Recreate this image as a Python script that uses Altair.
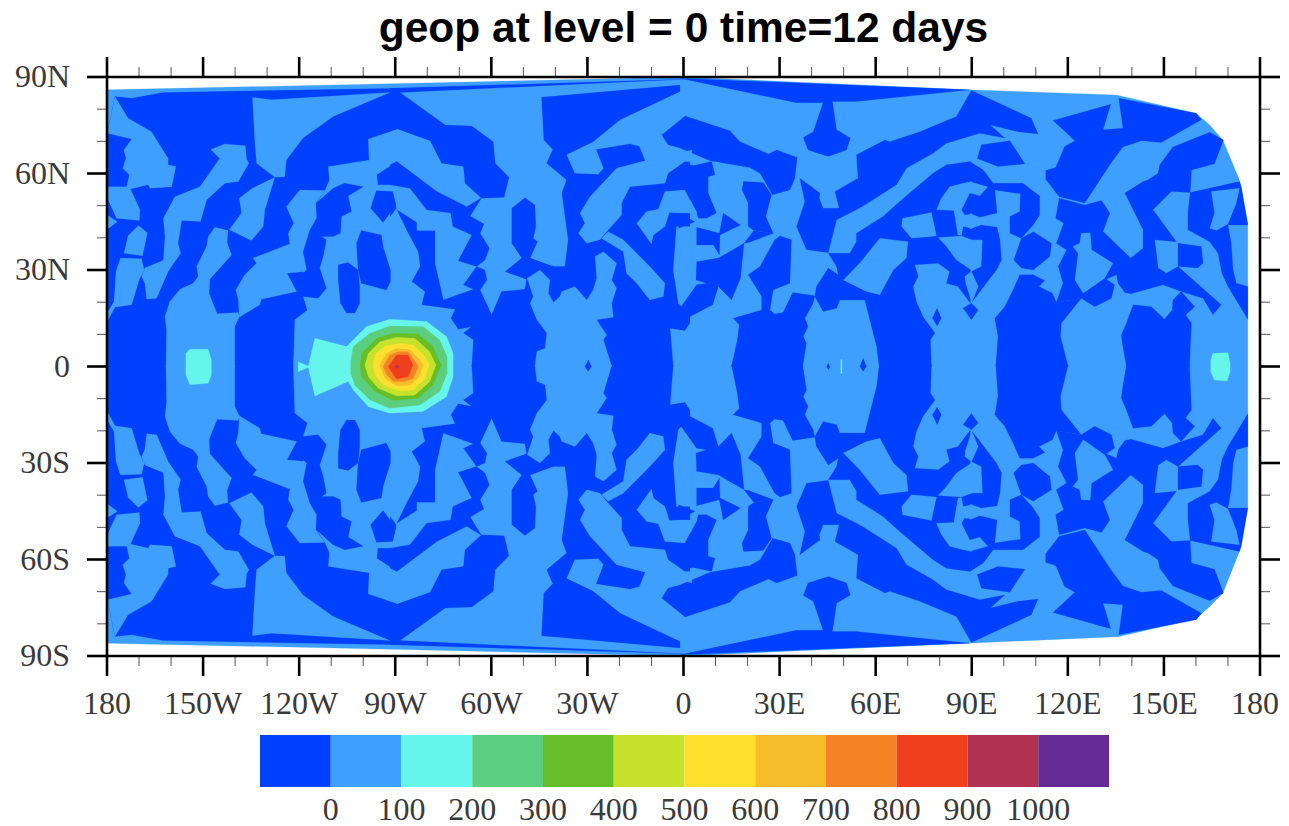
import altair as alt
import pandas as pd

FONT_AXIS = "Liberation Serif"
AXIS_SIZE = 32
AXIS_COLOR = "#3a3a3a"
DARK_C, LIGHT_C = "#0040ff", "#3f9fff"
bar_colors = ["#0040ff", "#3f9fff", "#66f5eb", "#5bcf7f", "#66bf2a", "#c6e22c",
              "#fde02e", "#f7bc2a", "#f38324", "#ee401c", "#b03150", "#652a94"]
bar_edges = [-100, 0, 100, 200, 300, 400, 500, 600, 700, 800, 900, 1000, 1100]
bar_labels = [0, 100, 200, 300, 400, 500, 600, 700, 800, 900, 1000]

x_ticks = [-180, -150, -120, -90, -60, -30, 0, 30, 60, 90, 120, 150, 180]
x_labels = ["180", "150W", "120W", "90W", "60W", "30W", "0", "30E", "60E", "90E", "120E", "150E", "180"]
y_ticks = [-90, -60, -30, 0, 30, 60, 90]
y_labels = ["90S", "60S", "30S", "0", "30N", "60N", "90N"]
x_minor = [-170, -160, -140, -130, -110, -100, -80, -70, -50, -40, -20, -10, 10, 20, 40, 50, 70, 80, 100, 110, 130, 140, 160, 170]
y_minor = [-80, -70, -50, -40, -20, -10, 10, 20, 40, 50, 70, 80]

HULL = [[(-180,86),(-88,88),(0,90),(89.4,86),(135.2,84.4),(160,78.7),(164.3,75.1),(168.4,70.4),(173.6,58),(176.2,44.5),
         (176.2,-44),(173.6,-57.5),(168.4,-70.5),(164.3,-74.6),(160,-78.5),(135.7,-84),(89.4,-86),(0,-90),(-88,-88),(-180,-86)]]

DARK_N = [
 [(-179.9,72.5),(-177.5,83.9),(-172.3,83.4),(-162.4,85.2),(-88.6,86.5),(-88.6,74.1),(-98.5,70.7),(-98.2,64.2),(-111,62.2),(-110.6,58),(-112,54.7),(-114.6,50.8),(-109.4,55.4),(-105.8,57),(-100,55.9),(-104.7,53),(-103.7,48.2),(-106.8,46.6),(-107.1,41.4),(-109.4,40.4),(-113,40.4),(-111.5,39.4),(-112.5,34.2),(-113.6,30.6),(-111.5,24.3),(-114.1,21.2),(-118.8,21.8),(-117.5,17.6),(-121.4,14.5),(-121.9,0),(-179.9,0)],
 [(-95.9,54.6),(-90.9,54.4),(-89.8,50.2),(-93.8,44.8),(-97.7,49.2)],
 [(-100.6,42.3),(-94.3,40.9),(-93.8,37.3),(-91.5,30),(-91.5,26.4),(-92.8,23.8),(-100.6,25.9),(-101.6,30),(-102.1,38.3)],
 [(-107.8,31.6),(-104.7,32.3),(-101.6,30),(-101.1,24.9),(-101.1,19.7),(-102.6,16.6),(-105.2,16.6),(-107.1,19.7),(-107.8,26.9)],
 [(-95.7,59.6),(-89.8,63.4),(-89.5,63.7),(-85,58),(-91.6,56.5),(-95.4,56.5)],
 [(-90.8,54.4),(-89.7,49.2),(-91.6,46.6)],
 [(-91.6,86.5),(-0.1,89.3),(-88.5,85.2),(-91.6,85.5)],
 [(-91.6,85.5),(-88.5,85.2),(-74.4,75.1),(-66.1,74.8),(-59.4,69.9),(-58.8,63.2),(-54.5,58.8),(-56,52.6),(-63,52.3),(-68.2,57),(-68.7,62.2),(-75.5,63.2),(-79.1,70.2),(-90,74.1),(-91.6,73.6)],
 [(-91.6,62.7),(-89.5,63.7),(-77,54.4),(-67.7,49.7),(-63,52.5),(-66.6,46.8),(-62.3,44.3),(-63.5,41.4),(-60.6,36.8),(-62,33.1),(-64.6,31.1),(-70.3,32.9),(-66.1,40.9),(-72,43.5),(-72.7,47.7),(-80.2,48.7),(-85.4,55.4),(-91.6,56.5)],
 [(-44.3,83.7),(-1.1,87.5),(-1.1,85.5),(-19.8,76.7),(-28.2,69.9),(-36.5,65.8),(-27.3,67.5),(-16.7,69.2),(-13.8,68.4),(-12,64),(-12,63),(0.4,63.8),(2,63.8),(2,13.5),(0.4,11.2),(-4.2,11.9),(-3.2,0),(-66.1,0),(-65.6,8.3),(-68.7,10.4),(-66.1,12.4),(-70.3,11.6),(-72.6,15),(-71.3,17.8),(-81.7,19.2),(-80.7,23.3),(-84.8,26.4),(-82.2,31.1),(-82.8,35.7),(-85.9,41.4),(-89.5,48.7),(-83.3,44.8),(-83.3,42.2),(-77.6,42.2),(-77.6,32.1),(-75,20.7),(-65.6,24),(-68.7,25.4),(-64.6,31.1),(-62,30),(-61.4,26.9),(-63.5,23.8),(-59.9,16.1),(-56.8,23.3),(-49.5,24),(-49,27.1),(-55.7,29.5),(-50.5,33.7),(-47.9,33.7),(-40.6,31.1),(-37,31.1),(-36,39.4),(-38,53.9),(-36.5,58),(-42.7,63.2),(-40.8,67.5),(-43.6,70.4)],
 [(-53.6,49.2),(-49.5,52.5),(-46.4,50.2),(-46.1,43.5),(-46.9,39.9),(-45.6,38.8),(-47.9,33.7),(-50.5,33.7),(-53.6,38.3)],
 [(-6.8,72),(0.5,77.9),(14.5,73.3),(17.6,69.9),(26.5,66.1),(29.1,67.3),(35.5,65),(34.8,58.5),(33.2,54.9),(27.8,53.4),(23.9,60.1),(20.7,61.9),(8.3,64),(-1.1,67.9),(-4.8,68.9)],
 [(-1.1,89.6),(89.4,86),(54,82.4),(46.5,82.4),(47.8,73.6),(52.1,71),(50.9,67.3),(45.2,65.3),(38.9,67.3),(37.4,71.2),(40.5,73),(43.6,82),(35.3,82)],
 [(54,65.8),(62.9,70.4),(64.4,69.9),(73.8,73),(85.2,77.7),(89.9,85.8),(108.6,77.2),(110.7,72.3),(104.5,73),(95.8,75.1),(100.3,71),(92.5,72.5),(82.1,69.4),(77.9,66.3),(69.6,61.6),(66.5,56.5),(56.6,50.2),(54,48.7),(47.8,45.6),(45.2,35.4),(38.4,36.3),(35.3,43.5),(37.9,51.3),(36.3,58.5),(42.6,53.9),(42.4,52.3),(43.6,49.2),(48.6,49.2),(47.3,54.4),(54.5,58.5)],
 [(54,41.4),(62.3,46.6),(67.5,51.3),(77.9,60.1),(82.1,62.7),(89.4,63.7),(89.6,19.7),(85.7,24.9),(82.1,25.9),(83.1,29.5),(79.5,32.1),(72.2,31.6),(73.3,28),(71.7,24.9),(72.7,20.2),(74.8,15.5),(78.5,10.4),(77.1,8.3),(77.4,0),(61.1,0),(60.3,6.2),(56.6,20.7),(48.8,20.7),(47.8,18.1),(43.6,17.1),(41,21.8),(41.5,24.9),(45.2,30.6),(48.3,28.5),(47.8,31.1),(45.2,35.2),(51.9,35.2),(54,38.8)],
 [(93,68.9),(101.9,70.2),(106.6,63),(98.2,62.2),(91.7,64.7)],
 [(89.4,63.7),(93.6,61.1),(96.7,57),(106,57),(111.2,53),(111.2,47.1),(109.2,44),(105.5,39.9),(101.9,41.4),(101.9,46.6),(105,48.2),(105.2,53.7),(97.2,54.9),(97.9,47.7),(92.5,46.4),(89.4,47.7),(89.4,53.9),(92.5,53),(95.1,55.9),(89.4,57.5)],
 [(89.4,42.7),(93,44),(97.9,43.3),(98.8,39.4),(99.3,33.1),(97.7,30),(90.2,20.2),(92,24.9),(89.9,29.5),(93,31.1),(93.4,39.4),(89.4,39.4)],
 [(-1.1,63.2),(3.1,62.5),(8.8,63.7),(9.8,59.6),(7.7,59),(7.7,53.9),(10.3,47.7),(7.2,46.1),(4.6,46.1),(4.1,48.2),(0.5,54.9),(-1.1,54.4)],
 [(18.7,57.5),(24.9,57.2),(27.5,53.4),(25.7,46.6),(28,41.4),(22,42.3),(20.2,43.5),(20.2,50.8),(18.3,54.9)],
 [(28,41.4),(20.2,38.5),(18.9,38.3),(22,42.3)],
 [(30.1,40.6),(33.7,39.4),(33.2,25.9),(28,23.8),(27,17.6),(24.4,21.8),(20.2,28.5),(23.9,31.1),(28.5,39.4)],
 [(15.5,15),(24.4,17.6),(24.4,21.8),(27,17.6),(28.5,16.3),(31.1,16.8),(34.1,23),(41,22),(40.5,19.7),(37.9,15),(38.9,12.4),(37.4,9.3),(38.4,7.2),(37.2,0),(15,0),(16.8,8.3),(17.4,13)],
 [(4.1,43.3),(11.2,41.4),(12.4,47.7),(17.8,44),(11.4,40.9),(11.2,34.7),(9.3,37.8),(4.1,37.8)],
 [(115.4,76.5),(133.4,81.5),(131,73.6),(137.2,74.1),(135.9,83.4),(160.1,78.7),(161.7,76.7),(149.2,69.6),(143,70.2),(137.2,68.2),(133.1,62.7),(125.3,50.8),(117.3,52.8),(113.1,58.2),(113.1,60.9),(116.2,61.9),(119,68.4),(122.2,70.2)],
 [(158.2,54.1),(173.6,57.5),(174.2,55.7),(176.2,44),(170,44),(171,38.3),(171.6,30),(172.6,25.9),(176.2,24.9),(176.2,14.7),(170,24.9),(168.1,29),(166.9,35.2),(164.3,38.8),(157.5,42.5),(157.5,47.7)],
 [(140.4,19.2),(146.1,18.6),(150.2,14.7),(152.6,17.6),(152.8,20.7),(155.4,23.3),(159.6,18.6),(156.8,16),(158.6,13.5),(158,0),(138.3,0),(137,7.2),(136.7,9.8),(138.3,13.5)],
 [(117.3,52.3),(125.3,50.2),(130.5,51.6),(133.1,47.7),(131,42),(139.6,33.7),(143.5,36.8),(143.5,42.5),(140.4,48.7),(137.8,53.9),(143.5,57.5),(145,58),(148.2,60.1),(148.7,62.7),(152.8,68.2),(164.3,72.8),(168.6,70.4),(165.8,63),(158.6,61.1),(158.2,54.1),(152.3,54.4),(146.6,48.7),(153.9,38.8),(147.1,39.4),(148.2,30.6),(150.8,29),(154.4,31.1),(167.9,19.2),(165.3,16.1),(162.2,21.2),(155.4,23.3),(149.7,25.4),(139.8,22.6),(137.8,23),(135.7,25.9),(135.2,28.5),(132,27.1),(134.6,25.4),(133.6,21.2),(128.4,18.6),(124.2,21.2),(116.4,20),(118.5,25.9),(117,31.1),(119.6,36.2),(116.4,38.3),(118.7,44.5),(116.2,46.1)],
 [(154.4,38.3),(161.7,37.3),(162.2,32.1),(160.6,30.6),(154.4,31.1)],
 [(105.5,39.9),(109.2,41.9),(114.9,38.3),(114.4,34.2),(109.2,30),(105.5,30.6),(103.1,33.1)],
 [(105,28.5),(109.2,28.5),(112.8,26.7),(111,24.9),(115.2,22.8),(116.4,20),(124.2,21.2),(118,13.5),(117.7,9.3),(120.1,0),(97.5,0),(98.2,9.3),(97.2,15),(100.3,18.6),(102.9,23.8)],
]

DARK_S = [
 [(-179.9,-72.5),(-177.5,-83.9),(-172.3,-83.4),(-162.4,-85.2),(-88.6,-86.5),(-88.6,-74.1),(-98.5,-70.7),(-98.2,-64.2),(-111,-62.2),(-110.6,-58),(-112,-54.7),(-114.6,-50.8),(-109.4,-55.4),(-105.8,-57),(-100,-55.9),(-104.7,-53),(-103.7,-48.2),(-106.8,-46.6),(-107.1,-41.4),(-109.4,-40.4),(-113,-40.4),(-111.5,-39.4),(-112.5,-34.2),(-113.6,-30.6),(-111.5,-24.3),(-114.1,-21.2),(-118.8,-21.8),(-117.5,-17.6),(-121.4,-14.5),(-121.9,0.5),(-179.9,0.5)],
 [(-95.9,-54.6),(-90.9,-54.4),(-89.8,-50.2),(-93.8,-44.8),(-97.7,-49.2)],
 [(-100.6,-42.3),(-94.3,-40.9),(-93.8,-37.3),(-91.5,-30),(-91.5,-26.4),(-92.8,-23.8),(-100.6,-25.9),(-101.6,-30),(-102.1,-38.3)],
 [(-107.8,-31.6),(-104.7,-32.3),(-101.6,-30),(-101.1,-24.9),(-101.1,-19.7),(-102.6,-16.6),(-105.2,-16.6),(-107.1,-19.7),(-107.8,-26.9)],
 [(-95.7,-59.6),(-89.8,-63.4),(-89.5,-63.7),(-85,-58),(-91.6,-56.5),(-95.4,-56.5)],
 [(-90.8,-54.4),(-89.7,-49.2),(-91.6,-46.6)],
 [(-91.6,-86.5),(-0.1,-89.3),(-88.5,-85.2),(-91.6,-85.5)],
 [(-91.6,-85.5),(-88.5,-85.2),(-74.4,-75.1),(-66.1,-74.8),(-59.4,-69.9),(-58.8,-63.2),(-54.5,-58.8),(-56,-52.6),(-63,-52.3),(-68.2,-57),(-68.7,-62.2),(-75.5,-63.2),(-79.1,-70.2),(-90,-74.1),(-91.6,-73.6)],
 [(-91.6,-62.7),(-89.5,-63.7),(-77,-54.4),(-67.7,-49.7),(-63,-52.5),(-66.6,-46.8),(-62.3,-44.3),(-63.5,-41.4),(-60.6,-36.8),(-62,-33.1),(-64.6,-31.1),(-70.3,-32.9),(-66.1,-40.9),(-72,-43.5),(-72.7,-47.7),(-80.2,-48.7),(-85.4,-55.4),(-91.6,-56.5)],
 [(-44.3,-83.7),(-1.1,-87.5),(-1.1,-85.5),(-19.8,-76.7),(-28.2,-69.9),(-36.5,-65.8),(-27.3,-67.5),(-16.7,-69.2),(-13.8,-68.4),(-12,-64),(-12,-63),(0.4,-63.8),(2,-63.8),(2,-13.5),(0.4,-11.2),(-4.2,-11.9),(-3.2,0.5),(-66.1,0.5),(-65.6,-8.3),(-68.7,-10.4),(-66.1,-12.4),(-70.3,-11.6),(-72.6,-15),(-71.3,-17.8),(-81.7,-19.2),(-80.7,-23.3),(-84.8,-26.4),(-82.2,-31.1),(-82.8,-35.7),(-85.9,-41.4),(-89.5,-48.7),(-83.3,-44.8),(-83.3,-42.2),(-77.6,-42.2),(-77.6,-32.1),(-75,-20.7),(-65.6,-24),(-68.7,-25.4),(-64.6,-31.1),(-62,-30),(-61.4,-26.9),(-63.5,-23.8),(-59.9,-16.1),(-56.8,-23.3),(-49.5,-24),(-49,-27.1),(-55.7,-29.5),(-50.5,-33.7),(-47.9,-33.7),(-40.6,-31.1),(-37,-31.1),(-36,-39.4),(-38,-53.9),(-36.5,-58),(-42.7,-63.2),(-40.8,-67.5),(-43.6,-70.4)],
 [(-53.6,-49.2),(-49.5,-52.5),(-46.4,-50.2),(-46.1,-43.5),(-46.9,-39.9),(-45.6,-38.8),(-47.9,-33.7),(-50.5,-33.7),(-53.6,-38.3)],
 [(-6.8,-72),(0.5,-77.9),(14.5,-73.3),(17.6,-69.9),(26.5,-66.1),(29.1,-67.3),(35.5,-65),(34.8,-58.5),(33.2,-54.9),(27.8,-53.4),(23.9,-60.1),(20.7,-61.9),(8.3,-64),(-1.1,-67.9),(-4.8,-68.9)],
 [(-1.1,-89.6),(89.4,-86),(54,-82.4),(46.5,-82.4),(47.8,-73.6),(52.1,-71),(50.9,-67.3),(45.2,-65.3),(38.9,-67.3),(37.4,-71.2),(40.5,-73),(43.6,-82),(35.3,-82)],
 [(54,-65.8),(62.9,-70.4),(64.4,-69.9),(73.8,-73),(85.2,-77.7),(89.9,-85.8),(108.6,-77.2),(110.7,-72.3),(104.5,-73),(95.8,-75.1),(100.3,-71),(92.5,-72.5),(82.1,-69.4),(77.9,-66.3),(69.6,-61.6),(66.5,-56.5),(56.6,-50.2),(54,-48.7),(47.8,-45.6),(45.2,-35.4),(38.4,-36.3),(35.3,-43.5),(37.9,-51.3),(36.3,-58.5),(42.6,-53.9),(42.4,-52.3),(43.6,-49.2),(48.6,-49.2),(47.3,-54.4),(54.5,-58.5)],
 [(54,-41.4),(62.3,-46.6),(67.5,-51.3),(77.9,-60.1),(82.1,-62.7),(89.4,-63.7),(89.6,-19.7),(85.7,-24.9),(82.1,-25.9),(83.1,-29.5),(79.5,-32.1),(72.2,-31.6),(73.3,-28),(71.7,-24.9),(72.7,-20.2),(74.8,-15.5),(78.5,-10.4),(77.1,-8.3),(77.4,0.5),(61.1,0.5),(60.3,-6.2),(56.6,-20.7),(48.8,-20.7),(47.8,-18.1),(43.6,-17.1),(41,-21.8),(41.5,-24.9),(45.2,-30.6),(48.3,-28.5),(47.8,-31.1),(45.2,-35.2),(51.9,-35.2),(54,-38.8)],
 [(93,-68.9),(101.9,-70.2),(106.6,-63),(98.2,-62.2),(91.7,-64.7)],
 [(89.4,-63.7),(93.6,-61.1),(96.7,-57),(106,-57),(111.2,-53),(111.2,-47.1),(109.2,-44),(105.5,-39.9),(101.9,-41.4),(101.9,-46.6),(105,-48.2),(105.2,-53.7),(97.2,-54.9),(97.9,-47.7),(92.5,-46.4),(89.4,-47.7),(89.4,-53.9),(92.5,-53),(95.1,-55.9),(89.4,-57.5)],
 [(89.4,-42.7),(93,-44),(97.9,-43.3),(98.8,-39.4),(99.3,-33.1),(97.7,-30),(90.2,-20.2),(92,-24.9),(89.9,-29.5),(93,-31.1),(93.4,-39.4),(89.4,-39.4)],
 [(-1.1,-63.2),(3.1,-62.5),(8.8,-63.7),(9.8,-59.6),(7.7,-59),(7.7,-53.9),(10.3,-47.7),(7.2,-46.1),(4.6,-46.1),(4.1,-48.2),(0.5,-54.9),(-1.1,-54.4)],
 [(18.7,-57.5),(24.9,-57.2),(27.5,-53.4),(25.7,-46.6),(28,-41.4),(22,-42.3),(20.2,-43.5),(20.2,-50.8),(18.3,-54.9)],
 [(28,-41.4),(20.2,-38.5),(18.9,-38.3),(22,-42.3)],
 [(30.1,-40.6),(33.7,-39.4),(33.2,-25.9),(28,-23.8),(27,-17.6),(24.4,-21.8),(20.2,-28.5),(23.9,-31.1),(28.5,-39.4)],
 [(15.5,-15),(24.4,-17.6),(24.4,-21.8),(27,-17.6),(28.5,-16.3),(31.1,-16.8),(34.1,-23),(41,-22),(40.5,-19.7),(37.9,-15),(38.9,-12.4),(37.4,-9.3),(38.4,-7.2),(37.2,0.5),(15,0.5),(16.8,-8.3),(17.4,-13)],
 [(4.1,-43.3),(11.2,-41.4),(12.4,-47.7),(17.8,-44),(11.4,-40.9),(11.2,-34.7),(9.3,-37.8),(4.1,-37.8)],
 [(115.4,-76.5),(133.4,-81.5),(131,-73.6),(137.2,-74.1),(135.9,-83.4),(160.1,-78.7),(161.7,-76.7),(149.2,-69.6),(143,-70.2),(137.2,-68.2),(133.1,-62.7),(125.3,-50.8),(117.3,-52.8),(113.1,-58.2),(113.1,-60.9),(116.2,-61.9),(119,-68.4),(122.2,-70.2)],
 [(158.2,-54.1),(173.6,-57.5),(174.2,-55.7),(176.2,-44),(170,-44),(171,-38.3),(171.6,-30),(172.6,-25.9),(176.2,-24.9),(176.2,-14.7),(170,-24.9),(168.1,-29),(166.9,-35.2),(164.3,-38.8),(157.5,-42.5),(157.5,-47.7)],
 [(140.4,-19.2),(146.1,-18.6),(150.2,-14.7),(152.6,-17.6),(152.8,-20.7),(155.4,-23.3),(159.6,-18.6),(156.8,-16),(158.6,-13.5),(158,0.5),(138.3,0.5),(137,-7.2),(136.7,-9.8),(138.3,-13.5)],
 [(117.3,-52.3),(125.3,-50.2),(130.5,-51.6),(133.1,-47.7),(131,-42),(139.6,-33.7),(143.5,-36.8),(143.5,-42.5),(140.4,-48.7),(137.8,-53.9),(143.5,-57.5),(145,-58),(148.2,-60.1),(148.7,-62.7),(152.8,-68.2),(164.3,-72.8),(168.6,-70.4),(165.8,-63),(158.6,-61.1),(158.2,-54.1),(152.3,-54.4),(146.6,-48.7),(153.9,-38.8),(147.1,-39.4),(148.2,-30.6),(150.8,-29),(154.4,-31.1),(167.9,-19.2),(165.3,-16.1),(162.2,-21.2),(155.4,-23.3),(149.7,-25.4),(139.8,-22.6),(137.8,-23),(135.7,-25.9),(135.2,-28.5),(132,-27.1),(134.6,-25.4),(133.6,-21.2),(128.4,-18.6),(124.2,-21.2),(116.4,-20),(118.5,-25.9),(117,-31.1),(119.6,-36.2),(116.4,-38.3),(118.7,-44.5),(116.2,-46.1)],
 [(154.4,-38.3),(161.7,-37.3),(162.2,-32.1),(160.6,-30.6),(154.4,-31.1)],
 [(105.5,-39.9),(109.2,-41.9),(114.9,-38.3),(114.4,-34.2),(109.2,-30),(105.5,-30.6),(103.1,-33.1)],
 [(105,-28.5),(109.2,-28.5),(112.8,-26.7),(111,-24.9),(115.2,-22.8),(116.4,-20),(124.2,-21.2),(118,-13.5),(117.7,-9.3),(120.1,0.5),(97.5,0.5),(98.2,-9.3),(97.2,-15),(100.3,-18.6),(102.9,-23.8)],
]

LIGHT_N = [
 [(-177.5,83.9),(-173.4,77.2),(-166.1,73),(-160.9,64.7),(-160.9,62.7),(-158.5,62.2),(-159.8,55.9),(-166.6,55.4),(-167.1,56.5),(-174.1,54.9),(-173,59.6),(-175.1,61.6),(-174.1,64.7),(-174.7,67.3),(-172.3,70.7),(-179.9,72.5)],
 [(-179.9,55.9),(-173,55.9),(-169.7,48.7),(-169.9,45.4),(-177,46.1),(-179.9,52.3)],
 [(-179.9,47.1),(-176.8,45),(-179.9,42.7)],
 [(-170.2,43.8),(-167.4,41.6),(-168.9,34.4),(-174.7,35.2),(-173.4,40.7)],
 [(-175.8,33.7),(-169.2,33.5),(-168.4,30),(-169.9,27.1),(-172.3,19.2),(-177.5,18.4),(-179.9,14),(-179.9,16.6),(-177.8,20.2),(-177.2,29.5)],
 [(-168.2,30.6),(-162.4,33),(-161.9,40.4),(-162.4,46.1),(-158.8,52.8),(-151,55.9),(-144.8,64.7),(-147.6,67.5),(-143.2,69.2),(-136.8,68.6),(-136.4,64.4),(-135.7,63.2),(-139,57.5),(-143.2,57),(-148.9,51.8),(-150.8,45.1),(-156.7,45.4),(-157.8,38.3),(-157,35.2),(-160.9,29.5),(-164.5,21.2),(-167.6,20.9),(-168.2,25.9),(-169.2,28)],
 [(-138.7,52.3),(-134.6,55.4),(-127.6,58.8),(-130.7,48.7),(-131.2,43.5),(-134.9,39.2),(-141.8,42.5),(-138,47.7)],
 [(-134.6,83.7),(-128.6,82.9),(-91.7,85.2),(-109.4,77.7),(-118.8,71),(-124,64.2),(-124.5,59),(-127.6,58.8),(-133.3,63.2),(-133.8,69.4)],
 [(-146.3,43.3),(-142.2,42.3),(-142.5,38.5),(-141.1,34.7),(-147.9,27.1),(-148.1,22.6),(-145.6,16.4),(-139,16.8),(-138.7,15.3),(-140.1,12.4),(-140.1,0),(-161.6,0),(-161.4,11.4),(-161.9,15.5),(-160.4,20.2),(-157.2,24),(-153.1,25.9),(-151.5,28),(-152,31.1),(-148.9,37.3),(-148.4,40.4)],
 [(-134.4,33.7),(-122.4,38.3),(-118.2,29.5),(-123.8,29),(-120.8,23.3),(-131.8,20.9),(-132.3,19.2),(-138.7,15.3),(-139,20.7),(-139.8,23.8),(-137,28.5),(-133.3,32.1)],
 [(-119.8,54.9),(-112,54.7),(-114.8,50.8),(-114.6,46.1),(-116.7,42.5),(-118.8,35.7),(-117.7,30),(-118.8,29.2),(-123,38.6),(-123.4,41.4),(-121.7,44.5),(-124,49.7)],
 [(-36.5,65.8),(-28.2,69.5),(-27.3,67.5),(-25,61.6),(-26.6,59.8),(-33.9,60.1)],
 [(-29.2,52.8),(-20.9,61.6),(-12,64),(2.6,67.3),(2.6,63.7),(0.4,63.7),(-4.8,60.1),(-5.8,57),(-16.7,55.9),(-19.3,50.8),(-19.3,47.1),(-23.5,42.5),(-26.1,39.4),(-30.2,38.3),(-32.8,41.4),(-30.8,44.5),(-32.3,47.7)],
 [(-5.8,54.4),(0.4,54.9),(4.1,47.7),(-1.1,47.7),(-4.4,47.9),(-5.8,43.5),(-9.4,40.9),(-10,38.1),(-14.6,44.5),(-11.5,48.2),(-7.9,48.9)],
 [(-23.5,41.9),(-18.8,39.4),(-10.5,31.1),(-5.8,25.9),(-6.3,21.8),(-10.5,20.7),(-14.6,25.9),(-17.8,29),(-18.8,35.7),(-25.6,39.9)],
 [(-2.2,43.5),(2.6,43.5),(2.6,18.1),(-0.1,18.1),(-1.6,19.7),(-3.2,30)],
 [(-48.8,27.4),(-44.8,30),(-41.7,26.9),(-42.2,22.8),(-40.6,19.9),(-38.6,21.8),(-38,23.3),(-33.9,24.9),(-30.2,20.7),(-28.2,23.8),(-27.1,27.4),(-27.6,34.2),(-25,35.7),(-20.9,32.1),(-22.4,26.9),(-20.9,24.3),(-22.4,19.7),(-21.9,15.3),(-27.1,14.5),(-24,9.8),(-25,8.3),(-22.4,0),(-46.4,0),(-45.8,4.7),(-43.2,5.7),(-42.7,10.4),(-45.8,14.5),(-47.9,19.7),(-46.9,21.8)],
 [(68.4,46.1),(77.4,47.9),(79,40.6),(71.2,39.9),(68.1,43.5)],
 [(80.5,52.3),(83.1,55.9),(87.3,57),(90,57.5),(90,53.9),(89.4,53.9),(86.8,48.7),(87.8,47.1),(90,47.4),(90,43),(87.3,43.5),(86.8,40.7),(85.7,40.9),(84.4,48.5),(79,48.7)],
 [(79.5,40.1),(86.8,40.6),(90,39.4),(90,31.1),(89.9,30),(85.2,33.1),(82.1,37.3)],
 [(49.9,26.9),(55,32.1),(61.3,39.9),(70.1,38.8),(69.6,33.7),(65.5,30),(61.3,22.3),(57.1,23.3)],
 [(89.9,29.5),(92,24.9),(89.9,20.2),(88.1,25.9),(87.8,28)],
 [(124.2,41.4),(127,41.6),(127.4,36.3),(134.1,32.1),(131.5,27.4),(124.8,22.8),(122.2,26.9),(123.2,35.2),(121.6,37.3),(123.7,38.3)],
 [(164.8,54.4),(173.6,55.4),(172.6,50.8),(170,44.3),(166.4,42.3),(164.3,43),(165.8,47.7)],
]

LIGHT_S = [
 [(-177.5,-83.9),(-173.4,-77.2),(-166.1,-73),(-160.9,-64.7),(-160.9,-62.7),(-158.5,-62.2),(-159.8,-55.9),(-166.6,-55.4),(-167.1,-56.5),(-174.1,-54.9),(-173,-59.6),(-175.1,-61.6),(-174.1,-64.7),(-174.7,-67.3),(-172.3,-70.7),(-179.9,-72.5)],
 [(-179.9,-55.9),(-173,-55.9),(-169.7,-48.7),(-169.9,-45.4),(-177,-46.1),(-179.9,-52.3)],
 [(-179.9,-47.1),(-176.8,-45),(-179.9,-42.7)],
 [(-170.2,-43.8),(-167.4,-41.6),(-168.9,-34.4),(-174.7,-35.2),(-173.4,-40.7)],
 [(-175.8,-33.7),(-169.2,-33.5),(-168.4,-30),(-169.9,-27.1),(-172.3,-19.2),(-177.5,-18.4),(-179.9,-14),(-179.9,-16.6),(-177.8,-20.2),(-177.2,-29.5)],
 [(-168.2,-30.6),(-162.4,-33),(-161.9,-40.4),(-162.4,-46.1),(-158.8,-52.8),(-151,-55.9),(-144.8,-64.7),(-147.6,-67.5),(-143.2,-69.2),(-136.8,-68.6),(-136.4,-64.4),(-135.7,-63.2),(-139,-57.5),(-143.2,-57),(-148.9,-51.8),(-150.8,-45.1),(-156.7,-45.4),(-157.8,-38.3),(-157,-35.2),(-160.9,-29.5),(-164.5,-21.2),(-167.6,-20.9),(-168.2,-25.9),(-169.2,-28)],
 [(-138.7,-52.3),(-134.6,-55.4),(-127.6,-58.8),(-130.7,-48.7),(-131.2,-43.5),(-134.9,-39.2),(-141.8,-42.5),(-138,-47.7)],
 [(-134.6,-83.7),(-128.6,-82.9),(-91.7,-85.2),(-109.4,-77.7),(-118.8,-71),(-124,-64.2),(-124.5,-59),(-127.6,-58.8),(-133.3,-63.2),(-133.8,-69.4)],
 [(-146.3,-43.3),(-142.2,-42.3),(-142.5,-38.5),(-141.1,-34.7),(-147.9,-27.1),(-148.1,-22.6),(-145.6,-16.4),(-139,-16.8),(-138.7,-15.3),(-140.1,-12.4),(-140.1,0.5),(-161.6,0.5),(-161.4,-11.4),(-161.9,-15.5),(-160.4,-20.2),(-157.2,-24),(-153.1,-25.9),(-151.5,-28),(-152,-31.1),(-148.9,-37.3),(-148.4,-40.4)],
 [(-134.4,-33.7),(-122.4,-38.3),(-118.2,-29.5),(-123.8,-29),(-120.8,-23.3),(-131.8,-20.9),(-132.3,-19.2),(-138.7,-15.3),(-139,-20.7),(-139.8,-23.8),(-137,-28.5),(-133.3,-32.1)],
 [(-119.8,-54.9),(-112,-54.7),(-114.8,-50.8),(-114.6,-46.1),(-116.7,-42.5),(-118.8,-35.7),(-117.7,-30),(-118.8,-29.2),(-123,-38.6),(-123.4,-41.4),(-121.7,-44.5),(-124,-49.7)],
 [(-36.5,-65.8),(-28.2,-69.5),(-27.3,-67.5),(-25,-61.6),(-26.6,-59.8),(-33.9,-60.1)],
 [(-29.2,-52.8),(-20.9,-61.6),(-12,-64),(2.6,-67.3),(2.6,-63.7),(0.4,-63.7),(-4.8,-60.1),(-5.8,-57),(-16.7,-55.9),(-19.3,-50.8),(-19.3,-47.1),(-23.5,-42.5),(-26.1,-39.4),(-30.2,-38.3),(-32.8,-41.4),(-30.8,-44.5),(-32.3,-47.7)],
 [(-5.8,-54.4),(0.4,-54.9),(4.1,-47.7),(-1.1,-47.7),(-4.4,-47.9),(-5.8,-43.5),(-9.4,-40.9),(-10,-38.1),(-14.6,-44.5),(-11.5,-48.2),(-7.9,-48.9)],
 [(-23.5,-41.9),(-18.8,-39.4),(-10.5,-31.1),(-5.8,-25.9),(-6.3,-21.8),(-10.5,-20.7),(-14.6,-25.9),(-17.8,-29),(-18.8,-35.7),(-25.6,-39.9)],
 [(-2.2,-43.5),(2.6,-43.5),(2.6,-18.1),(-0.1,-18.1),(-1.6,-19.7),(-3.2,-30)],
 [(-48.8,-27.4),(-44.8,-30),(-41.7,-26.9),(-42.2,-22.8),(-40.6,-19.9),(-38.6,-21.8),(-38,-23.3),(-33.9,-24.9),(-30.2,-20.7),(-28.2,-23.8),(-27.1,-27.4),(-27.6,-34.2),(-25,-35.7),(-20.9,-32.1),(-22.4,-26.9),(-20.9,-24.3),(-22.4,-19.7),(-21.9,-15.3),(-27.1,-14.5),(-24,-9.8),(-25,-8.3),(-22.4,0.5),(-46.4,0.5),(-45.8,-4.7),(-43.2,-5.7),(-42.7,-10.4),(-45.8,-14.5),(-47.9,-19.7),(-46.9,-21.8)],
 [(68.4,-46.1),(77.4,-47.9),(79,-40.6),(71.2,-39.9),(68.1,-43.5)],
 [(80.5,-52.3),(83.1,-55.9),(87.3,-57),(90,-57.5),(90,-53.9),(89.4,-53.9),(86.8,-48.7),(87.8,-47.1),(90,-47.4),(90,-43),(87.3,-43.5),(86.8,-40.7),(85.7,-40.9),(84.4,-48.5),(79,-48.7)],
 [(79.5,-40.1),(86.8,-40.6),(90,-39.4),(90,-31.1),(89.9,-30),(85.2,-33.1),(82.1,-37.3)],
 [(49.9,-26.9),(55,-32.1),(61.3,-39.9),(70.1,-38.8),(69.6,-33.7),(65.5,-30),(61.3,-22.3),(57.1,-23.3)],
 [(89.9,-29.5),(92,-24.9),(89.9,-20.2),(88.1,-25.9),(87.8,-28)],
 [(124.2,-41.4),(127,-41.6),(127.4,-36.3),(134.1,-32.1),(131.5,-27.4),(124.8,-22.8),(122.2,-26.9),(123.2,-35.2),(121.6,-37.3),(123.7,-38.3)],
 [(164.8,-54.4),(173.6,-55.4),(172.6,-50.8),(170,-44.3),(166.4,-42.3),(164.3,-43),(165.8,-47.7)],
]

DARK_TOP = [
 [(-1.5,47.7),(3.6,45),(-1.5,43)],
 [(4.1,32.6),(10.9,33.7),(18.9,38.3),(17.8,27.4),(15,20.7),(10.9,24.9),(9.1,19.2),(2,15.5),(0.5,11.2),(-1.6,11.9),(-1.6,17.6),(-1.1,18.1),(4.1,25.4),(7.2,25.9),(3.9,26.9)],
 [(-1.5,-47.7),(3.6,-45),(-1.5,-43)],
 [(4.1,-32.6),(10.9,-33.7),(18.9,-38.3),(17.8,-27.4),(15,-20.7),(10.9,-24.9),(9.1,-19.2),(2,-15.5),(0.5,-11.2),(-1.6,-11.9),(-1.6,-17.6),(-1.1,-18.1),(4.1,-25.4),(7.2,-25.9),(3.9,-26.9)],
 [(87.3,18.1),(89.9,19.7),(92,17.6),(89.9,14.5)],
 [(87.3,-18.1),(89.9,-19.7),(92,-17.6),(89.9,-14.5)],
 [(77.7,15),(79.2,18.1),(80.5,15),(79.2,12.6)],
 [(77.7,-15),(79.2,-18.1),(80.5,-15),(79.2,-12.6)],
 [(-29.7,2),(-28.7,0),(-29.7,-1.5),(-30.8,0)],
 [(56.1,2.6),(57.1,0),(56.1,-1.5),(55.1,0)],
 [(45.2,1),(45.7,0),(45.2,-1),(44.7,0)],
]

CYAN = [
 [(-115.1,8.8),(-105.2,6.2),(-99,12.4),(-91.7,14.7),(-80.2,14),(-74,9.3),(-71.9,4.1),(-71.9,-3.2),(-74,-9.4),(-81.3,-14),(-91.7,-14.5),(-98.4,-12.5),(-103.1,-7.3),(-104.7,-4.7),(-115.1,-9.2),(-117.2,-0.1)],
 [(-120.3,1.5),(-116.6,-0.1),(-120.3,-1.6)],
 [(-155.4,4.1),(-154.1,5.4),(-148.4,5.4),(-147.4,2.1),(-147.4,-2.6),(-148.4,-5.2),(-154.1,-5.7),(-155.4,-2.6)],
 [(164.6,2),(165.3,4.1),(170,4.3),(170.7,1),(170.7,-1.6),(169.7,-4.5),(165.8,-4.2),(164.6,-1.6)],
 [(49.1,2.2),(49.5,2.2),(49.5,-2.2),(49.1,-2.2)],
]
GREEN1 = [[(-103.9,1.5),(-103.1,6.2),(-97.9,10.3),(-91.7,12.6),(-81.3,12.4),(-76.1,8.2),(-73.8,3),(-73.8,-2.1),(-76.1,-7.8),(-82.3,-12),(-91.7,-13),(-97.9,-10.4),(-102.6,-5.8),(-103.9,-2.1)]]
GREEN2 = [[(-100.5,4.1),(-95.8,8.8),(-90.6,10.3),(-82.8,10.1),(-78.2,6.2),(-75.6,0.5),(-78.2,-5.7),(-82.8,-9.9),(-90.6,-10.6),(-96.4,-7.8),(-100.5,-3.2),(-101,0.5)]]
LIME = [[(-99.5,0.5),(-98.4,4.1),(-94.8,7.7),(-89.6,9.1),(-83.9,8.8),(-79.2,4.6),(-77.3,0.5),(-79.2,-4.7),(-83.9,-8.9),(-89.6,-9.2),(-95.3,-6.8),(-98.4,-3.2)]]
YELLOW = [[(-96.9,0.5),(-96.4,3.6),(-93.2,6.4),(-88.5,7.2),(-84.4,6.7),(-80.7,3.1),(-79.4,0.5),(-80.7,-3.7),(-84.4,-7.3),(-88.5,-7.6),(-93.8,-5.7),(-96.4,-2.6)]]
AMBER = [[(-94.8,0.5),(-92.7,4.1),(-89.6,5.6),(-85.4,5.3),(-82.3,2),(-81.3,0.5),(-82.5,-3.2),(-85.4,-5.8),(-89.6,-6.1),(-93.2,-3.7)]]
ORANGE = [[(-93.8,-0.1),(-91.7,3.6),(-89.1,4.6),(-86,4.6),(-83.4,1),(-82.8,-0.1),(-84.4,-3.7),(-87,-4.7),(-90.6,-4.7),(-92.7,-2.6)]]
RED = [[(-92.2,-0.1),(-89.6,3.6),(-86,3.6),(-84.4,0.5),(-86,-3.2),(-89.6,-3.9)]]
CORE = [[(-90.1,-0.1),(-89.4,0.5),(-88.8,-0.1),(-89.4,-0.7)]]

X_SCALE = alt.Scale(domain=[-180, 180], nice=False, zero=False)
Y_SCALE = alt.Scale(domain=[-90, 90], nice=False, zero=False)


def fill_layer(polys, color):
    rows = []
    for pid, poly in enumerate(polys):
        for k, (lon, lat) in enumerate(poly):
            rows.append({"lon": lon, "lat": lat, "poly": pid, "k": k})
    return alt.Chart(pd.DataFrame(rows)).mark_line(
        interpolate="linear-closed", fill=color, stroke=color, strokeWidth=0.2
    ).encode(
        x=alt.X("lon:Q", scale=X_SCALE, axis=None),
        y=alt.Y("lat:Q", scale=Y_SCALE, axis=None),
        detail="poly:N",
        order="k:Q",
    )


def x_rules(vals, y0, y1, width, color):
    return alt.Chart(pd.DataFrame({"v": vals})).mark_rule(color=color, strokeWidth=width).encode(
        x=alt.X("v:Q", scale=X_SCALE, axis=None), y=alt.value(y0), y2=alt.value(y1))


def y_rules(vals, x0, x1, width, color):
    return alt.Chart(pd.DataFrame({"v": vals})).mark_rule(color=color, strokeWidth=width).encode(
        y=alt.Y("v:Q", scale=Y_SCALE, axis=None), x=alt.value(x0), x2=alt.value(x1))


W, H = 1153, 579
layers = [
    fill_layer(HULL, LIGHT_C),
    fill_layer(DARK_N + DARK_S, DARK_C),
    fill_layer(LIGHT_N + LIGHT_S, LIGHT_C),
    fill_layer(DARK_TOP, DARK_C),
    fill_layer(CYAN, bar_colors[2]),
    fill_layer(GREEN1, bar_colors[3]),
    fill_layer(GREEN2, bar_colors[4]),
    fill_layer(LIME, bar_colors[5]),
    fill_layer(YELLOW, bar_colors[6]),
    fill_layer(AMBER, bar_colors[7]),
    fill_layer(ORANGE, bar_colors[8]),
    fill_layer(RED, bar_colors[9]),
    fill_layer(CORE, bar_colors[10]),
]

BLACK = "#000000"
MINOR = "#555555"
layers += [
    x_rules(x_minor, -10, 0, 1, MINOR), x_rules(x_minor, H, H + 10, 1, MINOR),
    y_rules(y_minor, -10, 0, 1, MINOR), y_rules(y_minor, W, W + 10, 1, MINOR),
    x_rules(x_ticks, -20, 0, 2.6, BLACK), x_rules(x_ticks, H, H + 20, 2.6, BLACK),
    y_rules(y_ticks, -20, 0, 2.6, BLACK), y_rules(y_ticks, W, W + 20, 2.6, BLACK),
    x_rules(x_ticks[:1] + x_ticks[-1:], 0, H, 2.6, BLACK),
    y_rules(y_ticks[:1] + y_ticks[-1:], 0, W, 2.6, BLACK),
]

x_label_layer = alt.Chart(pd.DataFrame({"v": x_ticks[:-1], "t": x_labels[:-1]})).mark_text(
    font=FONT_AXIS, fontSize=AXIS_SIZE, color=AXIS_COLOR, baseline="middle"
).encode(x=alt.X("v:Q", scale=X_SCALE, axis=None), y=alt.value(627), text="t:N")
x_last_label = alt.Chart(pd.DataFrame({"v": x_ticks[-1:], "t": x_labels[-1:]})).mark_text(
    font=FONT_AXIS, fontSize=AXIS_SIZE, color=AXIS_COLOR, baseline="middle", dx=-5
).encode(x=alt.X("v:Q", scale=X_SCALE, axis=None), y=alt.value(627), text="t:N")
y_label_layer = alt.Chart(pd.DataFrame({"v": y_ticks, "t": y_labels})).mark_text(
    font=FONT_AXIS, fontSize=AXIS_SIZE, color=AXIS_COLOR, baseline="middle", align="right"
).encode(y=alt.Y("v:Q", scale=Y_SCALE, axis=None), x=alt.value(-37), text="t:N")
layers += [x_label_layer, x_last_label, y_label_layer]
plot = alt.layer(*layers)

# colour bar, on a scale of its own
BAR_SCALE = alt.Scale(domain=[bar_edges[0], bar_edges[-1]], range=[153, 1002], nice=False, zero=False)
bar_df = pd.DataFrame({"lo": bar_edges[:-1], "hi": bar_edges[1:], "c": bar_colors})
bar = alt.Chart(bar_df).mark_rect().encode(
    x=alt.X("lo:Q", scale=BAR_SCALE, axis=None), x2="hi:Q",
    y=alt.value(658), y2=alt.value(710),
    color=alt.Color("c:N", scale=None, legend=None),
)
bar_text = alt.Chart(pd.DataFrame({"v": bar_labels})).mark_text(
    font=FONT_AXIS, fontSize=AXIS_SIZE, color=AXIS_COLOR, baseline="middle"
).encode(x=alt.X("v:Q", scale=BAR_SCALE, axis=None), y=alt.value(733), text="v:Q")
colorbar = alt.layer(bar, bar_text)

chart = alt.layer(plot, colorbar).resolve_scale(x="independent").properties(
    width=W, height=H,
    title=alt.TitleParams("geop at level = 0 time=12 days", font="Liberation Sans", fontSize=42.5,
                          fontWeight="bold", color="#000000", anchor="middle", offset=5),
    padding={"left": 99, "top": 69, "right": 21, "bottom": 172},
    autosize=alt.AutoSizeParams(type="none"),
).configure_view(stroke=None)

chart.save("out.html", embed_options={"renderer": "svg", "actions": False})
